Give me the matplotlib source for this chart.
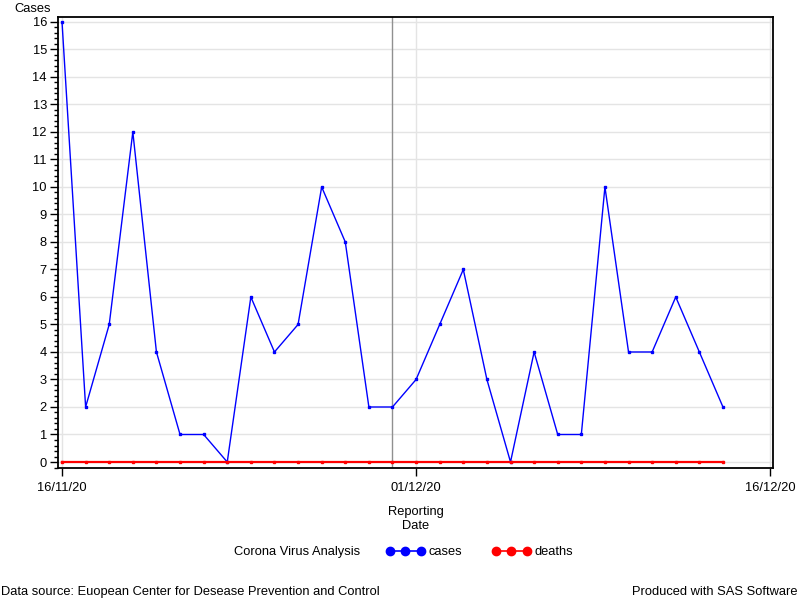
import matplotlib
matplotlib.use("Agg")
import matplotlib.pyplot as plt
import matplotlib.dates as mdates
from matplotlib.lines import Line2D
from matplotlib.ticker import MultipleLocator
import pandas as pd
import numpy as np

plt.rcParams['font.family'] = ['Liberation Sans', 'DejaVu Sans']

dates = pd.date_range("2020-11-16", "2020-12-14", freq="D")
cases = [16, 2, 5, 12, 4, 1, 1, 0, 6, 4, 5, 10, 8, 2, 2, 3, 5, 7, 3, 0, 4, 1, 1, 10, 4, 4, 6, 4, 2]
deaths = [0] * 29
tick_dates = pd.to_datetime(["2020-11-16", "2020-12-01", "2020-12-16"])
tick_labels = ["16/11/20", "01/12/20", "16/12/20"]
ref_date = pd.Timestamp("2020-11-30")

FS = 9.3
fig = plt.figure(figsize=(8, 6), dpi=100)
ax = fig.add_axes([58/800, 1-468/600, (773-58)/800, (468-16.7)/600])

for d in tick_dates:
    ax.axvline(d, color="#e4e4e4", lw=1, zorder=0)
for yv in range(0, 17):
    ax.axhline(yv, color="#e4e4e4", lw=1, zorder=0)
ax.axvline(ref_date, color="#909090", lw=1, zorder=1)

ax.plot(dates, cases, color="#0000ff", lw=1, marker="s", ms=1.6, zorder=3)
ax.plot(dates, deaths, color="#ff0000", lw=1.6, marker="s", ms=1.8, zorder=4)

ax.set_xlim(mdates.date2num(pd.Timestamp("2020-11-16")) - 0.17,
            mdates.date2num(pd.Timestamp("2020-12-16")) + 0.12)
ax.set_ylim(-0.218, 16.19)
ax.set_xticks(tick_dates)
ax.set_xticklabels(tick_labels)
ax.yaxis.set_major_locator(MultipleLocator(1))
ax.yaxis.set_minor_locator(MultipleLocator(0.2))
ax.tick_params(axis="both", which="major", direction="out", length=6, width=1, labelsize=FS, colors="black")
ax.tick_params(axis="y", which="minor", direction="out", length=3, width=1)
ax.tick_params(axis="x", pad=4)
ax.tick_params(axis="y", pad=2)
for s in ax.spines.values():
    s.set_linewidth(1.3)
    s.set_color("black")

fig.text(14/800, 1-9/600, "Cases", fontsize=FS, va="center", ha="left")
fig.text(416/800, 1-512/600, "Reporting", fontsize=FS, ha="center", va="center")
fig.text(416/800, 1-526/600, "Date", fontsize=FS, ha="center", va="center")

fig.text(297/800, 1-552/600, "Corona Virus Analysis", fontsize=FS, ha="center", va="center")
h1 = Line2D([0], [0], color="#0000ff", lw=1.2, marker="o", ms=6)
h2 = Line2D([0], [0], color="#ff0000", lw=1.2, marker="o", ms=6)
fig.legend([h1, h2], ["cases", "deaths"], loc="center left", bbox_to_anchor=(386/800, 1-552/600),
           ncol=2, numpoints=3, frameon=False, fontsize=FS, handlelength=3.0,
           handletextpad=0.3, columnspacing=2.3, borderaxespad=0, borderpad=0)

fig.text(1/800, 1-592/600, "Data source: Euopean Center for Desease Prevention and Control",
         fontsize=FS, ha="left", va="center")
fig.text(797/800, 1-592/600, "Produced with SAS Software", fontsize=FS, ha="right", va="center")

fig.savefig("out.png", dpi=100)
